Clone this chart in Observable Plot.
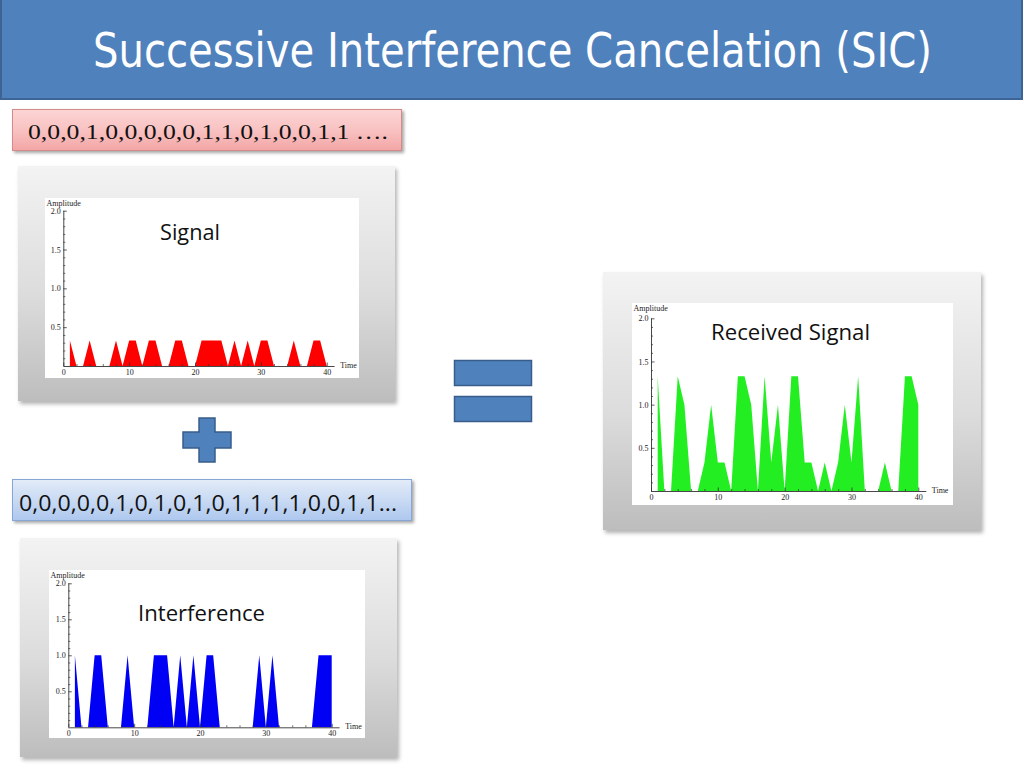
<!DOCTYPE html>
<html><head><meta charset="utf-8">
<script src="https://cdn.jsdelivr.net/npm/d3@7"></script>
<script src="https://cdn.jsdelivr.net/npm/@observablehq/plot@0.6"></script>
<style>
html,body{margin:0;padding:0}
body{width:1024px;height:768px;background:#fff;position:relative;overflow:hidden;font-family:"Open Sans",sans-serif;color:#111}
.abs{position:absolute}
#titlebar{left:0;top:-2px;width:1019px;height:98px;background:#4F81BD;border:2px solid #3E6495}
.fit{position:absolute;white-space:nowrap;transform-origin:left top}
#title{color:#fff;font-family:"DejaVu Sans Condensed","DejaVu Sans",sans-serif;font-size:48px;line-height:48px;left:93px;top:26px}
.box{position:absolute;box-sizing:border-box;box-shadow:2px 2px 3px rgba(0,0,0,0.35)}
#pink{left:12px;top:109px;width:390px;height:42px;border:1px solid #d48a88;background:linear-gradient(to bottom,#fcd4d4 0%,#f9c2c2 50%,#f3a6a6 100%)}
#blue{left:12px;top:479px;width:400px;height:42px;border:1px solid #86a6d6;background:linear-gradient(to bottom,#e2ebf8 0%,#c9daf3 50%,#aec8ee 100%)}
#bits1{font-family:"Liberation Serif",serif;font-size:22px;line-height:22px;left:28px;top:120.7px;color:#111}
#bits2{font-family:"Open Sans",sans-serif;font-size:22px;line-height:22px;left:19px;top:491px;color:#111}
.panel{position:absolute;box-sizing:border-box;background:linear-gradient(to bottom,#f3f3f3 0%,#dcdcdc 55%,#bdbdbd 100%);box-shadow:2px 3px 4px rgba(0,0,0,0.3)}
.plot{position:absolute;background:#fff}
.ctitle{font-family:"Open Sans",sans-serif;color:#111}
</style>
</head><body>
<div id="titlebar" class="abs"></div>
<div id="title" class="fit" data-w="839">Successive Interference Cancelation (SIC)</div>

<div id="pink" class="box"></div>
<div id="bits1" class="fit" data-w="360">0,0,0,1,0,0,0,0,0,1,1,0,1,0,0,1,1 ….</div>

<div class="panel" style="left:18px;top:166px;width:377px;height:235px"></div>
<div id="p1" class="plot" style="left:45px;top:198px;width:314px;height:180px"></div>
<div class="fit ctitle" data-w="60" style="left:160px;top:219.6px;font-size:22px;line-height:22px">Signal</div>

<svg class="abs" style="left:180px;top:415px" width="56" height="50">
  <path d="M19,3 H35 V17 H51 V33 H35 V47 H19 V33 H3 V17 H19 Z" fill="#4F81BD" stroke="#385D8A" stroke-width="1.5"/>
</svg>

<div id="blue" class="box"></div>
<div id="bits2" class="fit" data-w="378">0,0,0,0,0,1,0,1,0,1,0,1,1,1,1,0,0,1,1...</div>

<div class="panel" style="left:20px;top:538px;width:377px;height:219px"></div>
<div id="p2" class="plot" style="left:49px;top:570px;width:316px;height:168px"></div>
<div class="fit ctitle" data-w="127" style="left:138px;top:603px;font-size:21px;line-height:21px">Interference</div>

<svg class="abs" style="left:450px;top:356px" width="88" height="72">
  <rect x="4.5" y="4.5" width="77" height="25" fill="#4F81BD" stroke="#385D8A" stroke-width="1.5"/>
  <rect x="4.5" y="40.5" width="77" height="25" fill="#4F81BD" stroke="#385D8A" stroke-width="1.5"/>
</svg>

<div class="panel" style="left:603px;top:272px;width:378px;height:258px"></div>
<div id="p3" class="plot" style="left:632px;top:303px;width:321px;height:202px"></div>
<div class="fit ctitle" data-w="159" style="left:711px;top:319.6px;font-size:22px;line-height:22px">Received Signal</div>

<script>
// ---- data ----
const time = [1,2,3,4,5,6,7,8,9,10,11,12,13,14,15,16,17,18,19,20,21,22,23,24,25,26,27,28,29,30,31,32,33,34,35,36,37,38,39,40];
const signal = [0.33,0,0,0.33,0,0,0,0.33,0,0.33,0.33,0,0.33,0.33,0,0,0.33,0.33,0,0,0.33,0.33,0.33,0.33,0,0.33,0,0.33,0,0.33,0.33,0,0,0,0.33,0,0,0.33,0.33,0];
const interference = [1,0,0,1,1,0,0,0,1,0,0,0,1,1,1,0,1,0,1,0,1,1,0,0,0,0,0,0,1,0,1,0,0,0,0,0,0,1,1,1];
const received = [1.33,0,0,1.33,1,0,0,0.33,1,0.33,0.33,0,1.33,1.33,1,0,1.33,0.33,1,0,1.33,1.33,0.33,0.33,0,0.33,0,0.33,1,0.33,1.33,0,0,0,0.33,0,0,1.33,1.33,1];
const xMajor = [0,10,20,30,40];
const xMinor = [2,4,6,8,12,14,16,18,22,24,26,28,32,34,36,38];
const yMajor = [0.5,1.0,1.5,2.0];
const yMinor = [0.1,0.2,0.3,0.4,0.6,0.7,0.8,0.9,1.1,1.2,1.3,1.4,1.6,1.7,1.8,1.9];
const xLabel = "Time", yLabel = "Amplitude";

function mini(id, values, color, w, h, ml, mr, mt, mb) {
  const rows = time.map((t, i) => ({t, v: values[i]}));
  const kx = (w - ml - mr) / 40, ky = (h - mt - mb) / 2;
  const ax = "#333", tx = "#222";
  const chart = Plot.plot({
    width: w, height: h,
    marginLeft: ml, marginRight: mr, marginTop: mt, marginBottom: mb,
    x: {domain: [0, 40]},
    y: {domain: [0, 2]},
    style: {fontFamily: "Liberation Serif, serif", fontSize: "8px", background: "#fff", color: tx, overflow: "visible"},
    marks: [
      Plot.areaY(rows, {x: "t", y: "v", fill: color, curve: "linear"}),
      Plot.ruleY([0], {x1: 0, x2: 41.2, stroke: ax, strokeWidth: 0.9}),
      Plot.ruleX([0], {y1: 0, y2: 2, stroke: ax, strokeWidth: 0.9}),
      Plot.ruleX(xMajor, {x: d => d, y1: 0, y2: 3.5 / ky, stroke: ax, strokeWidth: 0.8}),
      Plot.ruleX(xMinor, {x: d => d, y1: 0, y2: 2 / ky, stroke: ax, strokeWidth: 0.7}),
      Plot.ruleY(yMajor, {y: d => d, x1: 0, x2: 3.5 / kx, stroke: ax, strokeWidth: 0.8}),
      Plot.ruleY(yMinor, {y: d => d, x1: 0, x2: 2 / kx, stroke: ax, strokeWidth: 0.7}),
      Plot.axisX({ticks: xMajor, tickSize: 0, tickPadding: 3, label: null, tickFormat: d3.format("d"), color: tx}),
      Plot.axisY({ticks: yMajor, tickSize: 0, tickPadding: 3, label: null, tickFormat: d3.format(".1f"), color: tx}),
      Plot.text([yLabel], {text: d => d, frameAnchor: "top-left", dx: -ml + 1, dy: 5 - mt, textAnchor: "start", lineAnchor: "middle", fontSize: 8, fill: tx}),
      Plot.text([xLabel], {text: d => d, frameAnchor: "bottom-right", dx: 13, dy: -1, textAnchor: "start", lineAnchor: "middle", fontSize: 8, fill: tx})
    ]
  });
  document.getElementById(id).appendChild(chart);
}

mini("p1", signal, "#ff0000", 314, 180, 18.3, 32.3, 12.7, 12);
mini("p2", interference, "#0000f5", 316, 168, 19.3, 33.3, 13.3, 10.7);
mini("p3", received, "#22ee22", 321, 202, 19, 34.7, 15.3, 14);

function fitAll() {
  document.querySelectorAll(".fit").forEach(el => {
    el.style.transform = "none";
    const w = el.getBoundingClientRect().width;
    const target = +el.dataset.w;
    if (w > 0) el.style.transform = `scaleX(${target / w})`;
  });
}
fitAll();
if (document.fonts && document.fonts.ready) document.fonts.ready.then(fitAll);
</script>
</body></html>
